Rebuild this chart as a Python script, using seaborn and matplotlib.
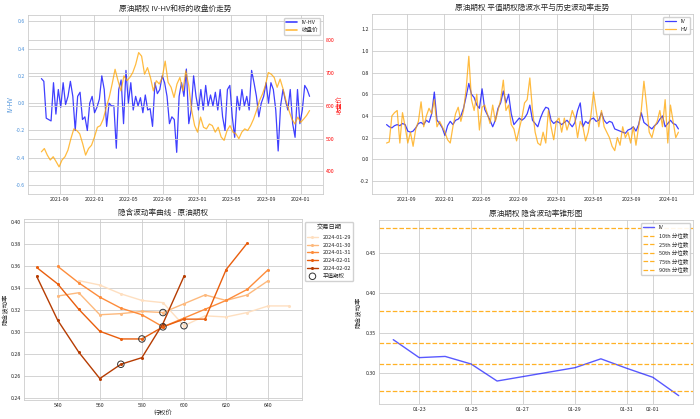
import matplotlib
matplotlib.use("Agg")
import matplotlib.pyplot as plt
import matplotlib.dates as mdates
from matplotlib.lines import Line2D
import seaborn as sns
import pandas as pd
import numpy as np

# ---- panel 1: IV-HV and underlying close (trading history) ----
ts_start = "2021-06-28"
ts_end = "2024-02-01"

iv_hv = [0.18, 0.16, -0.11, -0.12, -0.13, 0.15, -0.08, 0.10, -0.03, 0.15,
         -0.01, 0.05, 0.16, 0.05, -0.20, 0.05, 0.08, -0.12, -0.10, -0.20,
         0.00, 0.05, -0.07, -0.03, 0.03, 0.20, 0.10, -0.17, 0.00, -0.02,
         -0.02, -0.33, 0.10, 0.17, -0.15, 0.24, 0.00, 0.15, -0.05, 0.05,
         -0.02, 0.04, -0.07, 0.06, -0.05, -0.04, -0.17, 0.15, 0.07, 0.10,
         0.20, 0.15, 0.05, -0.15, -0.10, -0.12, -0.36, 0.05, 0.15, 0.05,
         0.25, -0.15, -0.05, 0.20, 0.05, -0.05, 0.10, -0.05, 0.13, -0.02,
         0.06, -0.02, 0.08, -0.05, 0.10, -0.10, -0.20, 0.10, 0.13, -0.10,
         -0.25, 0.05, -0.05, 0.10, -0.02, 0.05, -0.05, 0.24, 0.15, 0.05,
         -0.10, 0.00, 0.05, 0.15, 0.00, 0.15, 0.10, -0.05, -0.35, -0.02,
         0.10, 0.02, -0.05, 0.10, -0.15, -0.25, 0.10, -0.15, -0.05, 0.13,
         0.10, 0.05]

close = [460, 470, 450, 435, 445, 430, 414, 435, 445, 465,
         500, 530, 525, 515, 485, 450, 470, 480, 505, 535,
         540, 560, 596, 626, 667, 712, 677, 646, 692, 677,
         687, 702, 727, 763, 752, 697, 717, 687, 646, 677,
         667, 687, 737, 672, 657, 626, 667, 687, 646, 707,
         662, 586, 540, 520, 566, 535, 530, 545, 540, 520,
         535, 505, 495, 525, 540, 520, 515, 500, 520, 530,
         525, 540, 560, 586, 616, 636, 662, 702, 697, 687,
         657, 682, 652, 616, 586, 560, 545, 566, 550, 560,
         571, 586]

# ---- panel 2: ATM implied vol vs historical vol ----
atm_iv = [0.32, 0.30, 0.29, 0.31, 0.32, 0.31, 0.33, 0.32, 0.26, 0.25,
          0.26, 0.29, 0.33, 0.34, 0.32, 0.36, 0.34, 0.42, 0.62, 0.36,
          0.33, 0.29, 0.22, 0.31, 0.35, 0.32, 0.36, 0.37, 0.40, 0.47,
          0.58, 0.70, 0.60, 0.57, 0.50, 0.47, 0.65, 0.46, 0.41, 0.36,
          0.30, 0.36, 0.47, 0.52, 0.63, 0.52, 0.60, 0.42, 0.32, 0.35,
          0.38, 0.36, 0.38, 0.42, 0.50, 0.36, 0.33, 0.30, 0.38, 0.44,
          0.48, 0.47, 0.36, 0.33, 0.35, 0.34, 0.32, 0.34, 0.36, 0.33,
          0.30, 0.34, 0.45, 0.52, 0.30, 0.35, 0.33, 0.37, 0.38, 0.35,
          0.36, 0.43, 0.36, 0.33, 0.35, 0.34, 0.28, 0.27, 0.26, 0.25,
          0.24, 0.27, 0.28, 0.30, 0.26, 0.32, 0.43, 0.34, 0.32, 0.30,
          0.28, 0.31, 0.33, 0.37, 0.40, 0.30, 0.33, 0.36, 0.33, 0.32,
          0.28]

hist_vol = [0.15, 0.16, 0.40, 0.43, 0.45, 0.15, 0.43, 0.30, 0.15, 0.25,
            0.12, 0.28, 0.35, 0.53, 0.30, 0.40, 0.47, 0.42, 0.55, 0.30,
            0.35, 0.30, 0.25, 0.18, 0.15, 0.30, 0.42, 0.48, 0.35, 0.45,
            0.65, 0.95, 0.55, 0.45, 0.60, 0.27, 0.48, 0.50, 0.42, 0.33,
            0.50, 0.35, 0.45, 0.55, 0.73, 0.45, 0.50, 0.32, 0.28, 0.17,
            0.28, 0.38, 0.52, 0.55, 0.75, 0.45, 0.25, 0.15, 0.13, 0.25,
            0.15, 0.45, 0.30, 0.18, 0.35, 0.38, 0.25, 0.38, 0.27, 0.35,
            0.45, 0.38, 0.20, 0.35, 0.30, 0.17, 0.25, 0.40, 0.62, 0.45,
            0.30, 0.45, 0.30, 0.25, 0.20, 0.12, 0.08, 0.20, 0.13, 0.30,
            0.20, 0.25, 0.15, 0.30, 0.13, 0.30, 0.45, 0.72, 0.50, 0.25,
            0.20, 0.30, 0.35, 0.45, 0.30, 0.55, 0.15, 0.50, 0.35, 0.20,
            0.25]

# ---- panel 3: smile by trading day ----
smile_dates = ["2024-01-29", "2024-01-30", "2024-01-31", "2024-02-01", "2024-02-02"]
smile_strikes = {
    "2024-01-29": [550, 560, 570, 580, 590, 600, 610, 620, 630, 640, 650],
    "2024-01-30": [540, 550, 560, 570, 580, 590, 600, 610, 620, 630, 640],
    "2024-01-31": [540, 550, 560, 570, 580, 590, 600, 610, 620, 630, 640],
    "2024-02-01": [530, 540, 550, 560, 570, 580, 590, 600, 610, 620, 630],
    "2024-02-02": [530, 540, 550, 560, 570, 580, 590, 600],
}
smile_iv = {
    "2024-01-29": [0.347, 0.343, 0.335, 0.329, 0.327, 0.306, 0.315, 0.314, 0.318, 0.324, 0.324],
    "2024-01-30": [0.333, 0.336, 0.316, 0.317, 0.319, 0.318, 0.326, 0.334, 0.329, 0.334, 0.347],
    "2024-01-31": [0.360, 0.345, 0.332, 0.322, 0.316, 0.305, 0.313, 0.321, 0.329, 0.339, 0.357],
    "2024-02-01": [0.359, 0.344, 0.321, 0.301, 0.294, 0.294, 0.305, 0.312, 0.312, 0.357, 0.381],
    "2024-02-02": [0.351, 0.311, 0.282, 0.258, 0.271, 0.277, 0.308, 0.351],
}
atm_strike = [600, 590, 590, 580, 570]
atm_smile_iv = [0.306, 0.318, 0.305, 0.294, 0.271]

# ---- panel 4: recent IV against historical percentiles ----
cone_dates = ["2024-01-22", "2024-01-23", "2024-01-24", "2024-01-25", "2024-01-26",
              "2024-01-29", "2024-01-30", "2024-01-31", "2024-02-01", "2024-02-02"]
cone_iv = [0.3415, 0.319, 0.3205, 0.311, 0.2897, 0.3064, 0.3175, 0.3056, 0.2944, 0.2714]
pct_names = ["10th", "25th", "50th", "75th", "90th"]
pct_values = [0.2769, 0.3107, 0.3376, 0.3778, 0.4808]

sns.set_theme(style="whitegrid")
plt.rcParams["font.family"] = ["Noto Sans CJK SC", "DejaVu Sans"]
plt.rcParams["axes.unicode_minus"] = False
plt.rcParams["grid.linewidth"] = 0.6
plt.rcParams["axes.linewidth"] = 0.6
for k in ("xtick.major.size", "ytick.major.size", "xtick.minor.size", "ytick.minor.size"):
    plt.rcParams[k] = 0

TITLE = 5.5
TICK = 3.8
LAB = 4.5
LEG = 4

fig = plt.figure(figsize=(7, 4.19), dpi=100)
ax1 = fig.add_axes([0.040, 0.537, 0.4214, 0.427])
ax2 = fig.add_axes([0.5314, 0.537, 0.4586, 0.4296])
ax3 = fig.add_axes([0.0343, 0.0453, 0.397, 0.432])
ax4 = fig.add_axes([0.5414, 0.0358, 0.4486, 0.439])

# panel 1
d1 = pd.DataFrame({"date": pd.date_range(ts_start, ts_end, periods=len(iv_hv)), "v": iv_hv})
d1b = pd.DataFrame({"date": pd.date_range(ts_start, ts_end, periods=len(close)), "v": close})
sns.lineplot(data=d1, x="date", y="v", ax=ax1, color="blue", alpha=0.75, lw=0.9)
ax1b = ax1.twinx()
sns.lineplot(data=d1b, x="date", y="v", ax=ax1b, color="orange", alpha=0.75, lw=0.9)
ax1.set_ylim(-0.665, 0.645)
ax1b.set_ylim(min(close) * 0.8, max(close) * 1.15)
ax1.set_title("原油期权 IV-HV和标的收盘价走势", fontsize=TITLE, pad=3)
ax1.set_xlabel("")
ax1.set_ylabel("IV-HV", fontsize=LAB, color="#4a90d9", labelpad=1)
ax1b.set_ylabel("收盘价", fontsize=LAB, color="red", labelpad=1)
ax1.tick_params(axis="y", labelcolor="#4a90d9", labelsize=TICK, pad=2)
ax1b.tick_params(axis="y", labelcolor="red", labelsize=TICK, pad=2)
ax1b.grid(True, lw=0.6)
for s in ax1b.spines.values():
    s.set_visible(False)
ax1.legend(handles=[Line2D([], [], color="blue", alpha=0.75, lw=1.2, label="IV-HV"),
                    Line2D([], [], color="orange", alpha=0.75, lw=1.2, label="收盘价")],
           loc="upper right", fontsize=LEG, framealpha=0.9)

# panel 2
d2 = pd.DataFrame({"date": pd.date_range(ts_start, ts_end, periods=len(atm_iv)),
                   "IV": atm_iv, "HV": hist_vol})
sns.lineplot(data=d2, x="date", y="IV", ax=ax2, color="blue", alpha=0.75, lw=0.9, label="IV")
sns.lineplot(data=d2, x="date", y="HV", ax=ax2, color="orange", alpha=0.75, lw=0.9, label="HV")
ax2.set_ylim(-0.32, 1.34)
ax2.set_title("原油期权 平值期权隐波水平与历史波动率走势", fontsize=TITLE, pad=3)
ax2.set_xlabel("")
ax2.set_ylabel("")
ax2.legend(loc="upper right", fontsize=LEG, framealpha=0.9)

for ax in (ax1, ax2):
    ax.xaxis.set_major_locator(mdates.MonthLocator(bymonth=[1, 5, 9]))
    ax.xaxis.set_major_formatter(mdates.DateFormatter("%Y-%m"))
    ax.tick_params(labelsize=TICK, pad=2)

# panel 3
rows = []
for d in smile_dates:
    for k, v in zip(smile_strikes[d], smile_iv[d]):
        rows.append({"交易日期": d, "strike": k, "iv": v})
smile = pd.DataFrame(rows)
pal = sns.color_palette("Oranges", len(smile_dates))
sns.lineplot(data=smile, x="strike", y="iv", hue="交易日期", hue_order=smile_dates,
             palette=pal, marker="o", markersize=2.2, markeredgewidth=0, lw=1.0, ax=ax3)
ax3.scatter(atm_strike, atm_smile_iv, s=22, facecolors="none", edgecolors="#333333",
            linewidths=0.7, zorder=5, label="平值期权")
ax3.set_ylim(0.2385, 0.403)
ax3.set_xticks([540, 560, 580, 600, 620, 640])
ax3.set_title("隐含波动率曲线 - 原油期权", fontsize=TITLE, pad=3)
ax3.set_xlabel("行权价", fontsize=LAB, labelpad=1)
ax3.set_ylabel("隐含波动率", fontsize=LAB, labelpad=1)
ax3.tick_params(labelsize=TICK, pad=2)
ax3.legend(title="交易日期", loc="upper left", bbox_to_anchor=(1.0, 1.0),
           fontsize=LEG, title_fontsize=LEG + 0.5, framealpha=0.9)

# panel 4
cone = pd.DataFrame({"date": pd.to_datetime(cone_dates), "iv": cone_iv})
sns.lineplot(data=cone, x="date", y="iv", ax=ax4, color="blue", alpha=0.65, lw=1.0, label="IV")
for name, val in zip(pct_names, pct_values):
    ax4.axhline(val, color="orange", ls="--", lw=0.9, alpha=0.85, label=f"{name} 分位数")
ax4.xaxis.set_major_formatter(mdates.DateFormatter("%m-%d"))
ax4.set_title("原油期权 隐含波动率锥形图", fontsize=TITLE, pad=3)
ax4.set_xlabel("")
ax4.set_ylabel("隐含波动率", fontsize=LAB, labelpad=2)
ax4.tick_params(labelsize=TICK, pad=2)
ax4.legend(loc="upper right", fontsize=LEG, framealpha=0.9)

fig.savefig("out.png", dpi=100)
